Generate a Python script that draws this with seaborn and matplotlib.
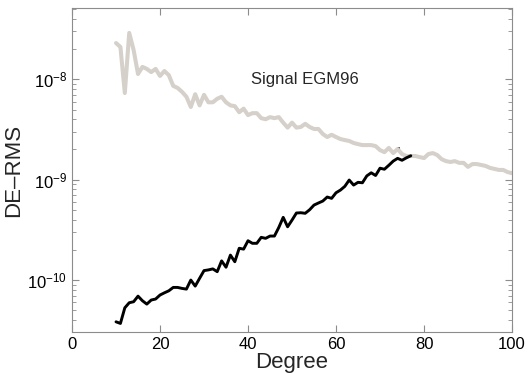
import numpy as np
import pandas as pd
import matplotlib
matplotlib.use("Agg")
import matplotlib.pyplot as plt
from matplotlib.ticker import LogLocator, NullFormatter
import seaborn as sns

# signal degree variances (EGM96), degrees 10..100
signal_deg = list(range(10, 101))
signal_rms = [
    2.30e-8, 2.10e-8, 7.3e-9, 2.90e-8, 1.96e-8, 1.13e-8, 1.33e-8, 1.27e-8, 1.18e-8, 1.27e-8,
    1.08e-8, 1.21e-8, 1.10e-8, 8.6e-9, 8.2e-9, 7.5e-9, 6.7e-9, 5.3e-9, 7.1e-9, 5.5e-9,
    7.0e-9, 5.9e-9, 5.9e-9, 6.4e-9, 6.7e-9, 5.9e-9, 5.5e-9, 5.4e-9, 4.7e-9, 5.1e-9,
    4.4e-9, 4.6e-9, 4.6e-9, 4.1e-9, 4.0e-9, 4.2e-9, 4.1e-9, 4.2e-9, 3.7e-9, 3.3e-9,
    3.7e-9, 3.3e-9, 3.35e-9, 3.6e-9, 3.35e-9, 3.2e-9, 3.2e-9, 2.85e-9, 2.66e-9, 2.8e-9,
    2.66e-9, 2.54e-9, 2.48e-9, 2.43e-9, 2.32e-9, 2.26e-9, 2.21e-9, 2.21e-9, 2.21e-9, 2.16e-9,
    1.97e-9, 1.88e-9, 2.07e-9, 1.84e-9, 2.02e-9, 1.80e-9, 1.72e-9, 1.72e-9, 1.72e-9, 1.68e-9,
    1.64e-9, 1.80e-9, 1.84e-9, 1.76e-9, 1.60e-9, 1.53e-9, 1.50e-9, 1.53e-9, 1.47e-9, 1.47e-9,
    1.34e-9, 1.43e-9, 1.43e-9, 1.40e-9, 1.37e-9, 1.31e-9, 1.28e-9, 1.25e-9, 1.25e-9, 1.19e-9,
    1.16e-9,
]

# error degree RMS, degrees 10..77
error_deg = list(range(10, 78))
error_rms = [
    3.83e-11, 3.69e-11, 5.28e-11, 5.93e-11, 6.07e-11, 6.90e-11, 6.21e-11, 5.75e-11, 6.31e-11, 6.46e-11,
    7.08e-11, 7.45e-11, 7.80e-11, 8.43e-11, 8.43e-11, 8.24e-11, 8.11e-11, 9.98e-11, 8.69e-11, 1.04e-10,
    1.24e-10, 1.26e-10, 1.29e-10, 1.21e-10, 1.55e-10, 1.34e-10, 1.77e-10, 1.52e-10, 2.07e-10, 2.03e-10,
    2.46e-10, 2.32e-10, 2.32e-10, 2.66e-10, 2.60e-10, 2.74e-10, 2.74e-10, 3.34e-10, 4.21e-10, 3.39e-10,
    3.95e-10, 4.65e-10, 4.68e-10, 4.62e-10, 5.01e-10, 5.58e-10, 5.85e-10, 6.12e-10, 6.71e-10, 6.51e-10,
    7.40e-10, 7.87e-10, 8.57e-10, 9.91e-10, 8.83e-10, 9.40e-10, 9.31e-10, 1.09e-9, 1.17e-9, 1.10e-9,
    1.30e-9, 1.27e-9, 1.39e-9, 1.53e-9, 1.63e-9, 1.56e-9, 1.65e-9, 1.73e-9,
]

# lone point above the error curve
dot_deg = [74]
dot_rms = [2.07e-9]

sns.set_style("ticks")
plt.rcParams['font.family'] = ['Liberation Sans', 'DejaVu Sans']
plt.rcParams['mathtext.fontset'] = 'custom'
plt.rcParams['mathtext.rm'] = 'Liberation Sans'
plt.rcParams['mathtext.it'] = 'Liberation Sans:italic'

signal = pd.DataFrame({"degree": signal_deg, "rms": signal_rms})
error = pd.DataFrame({"degree": error_deg, "rms": error_rms})

fig, ax = plt.subplots(figsize=(5.28, 3.73), dpi=100)
fig.subplots_adjust(left=0.1364, right=0.9697, top=0.9786, bottom=0.1099)

sns.lineplot(data=signal, x="degree", y="rms", color="#d5d0c9", lw=2.9, ax=ax)
sns.lineplot(data=error, x="degree", y="rms", color="black", lw=2.1, ax=ax)
sns.scatterplot(x=dot_deg, y=dot_rms, color="black", s=5, linewidth=0, ax=ax)

ax.set_yscale("log")
ax.set_xlim(0, 100)
ax.set_ylim(3.03e-11, 5.14e-8)
ax.set_xticks([0, 20, 40, 60, 80, 100])
ax.set_yticks([1e-10, 1e-9, 1e-8])
ax.set_yticklabels([r"$10^{-10}$", r"$10^{-9}$", r"$10^{-8}$"])
ax.yaxis.set_minor_locator(LogLocator(base=10, subs=np.arange(2, 10), numticks=20))
ax.yaxis.set_minor_formatter(NullFormatter())

ax.set_xlabel("Degree", fontsize=16, labelpad=0)
ax.set_ylabel("DE\u2013RMS", fontsize=16, labelpad=2)

ax.text(53, 1.0e-8, "Signal EGM96", fontsize=12, ha="center", va="center")

for side in ["top", "right", "left", "bottom"]:
    ax.spines[side].set_visible(True)
    ax.spines[side].set_color("#8c8c8c")
    ax.spines[side].set_linewidth(0.8)

ax.tick_params(which="both", direction="in", top=True, right=True, colors="#8c8c8c",
               labelcolor="black", labelsize=12)
ax.tick_params(which="major", length=5)
ax.tick_params(which="minor", length=3)

plt.savefig("out.png", dpi=100)
